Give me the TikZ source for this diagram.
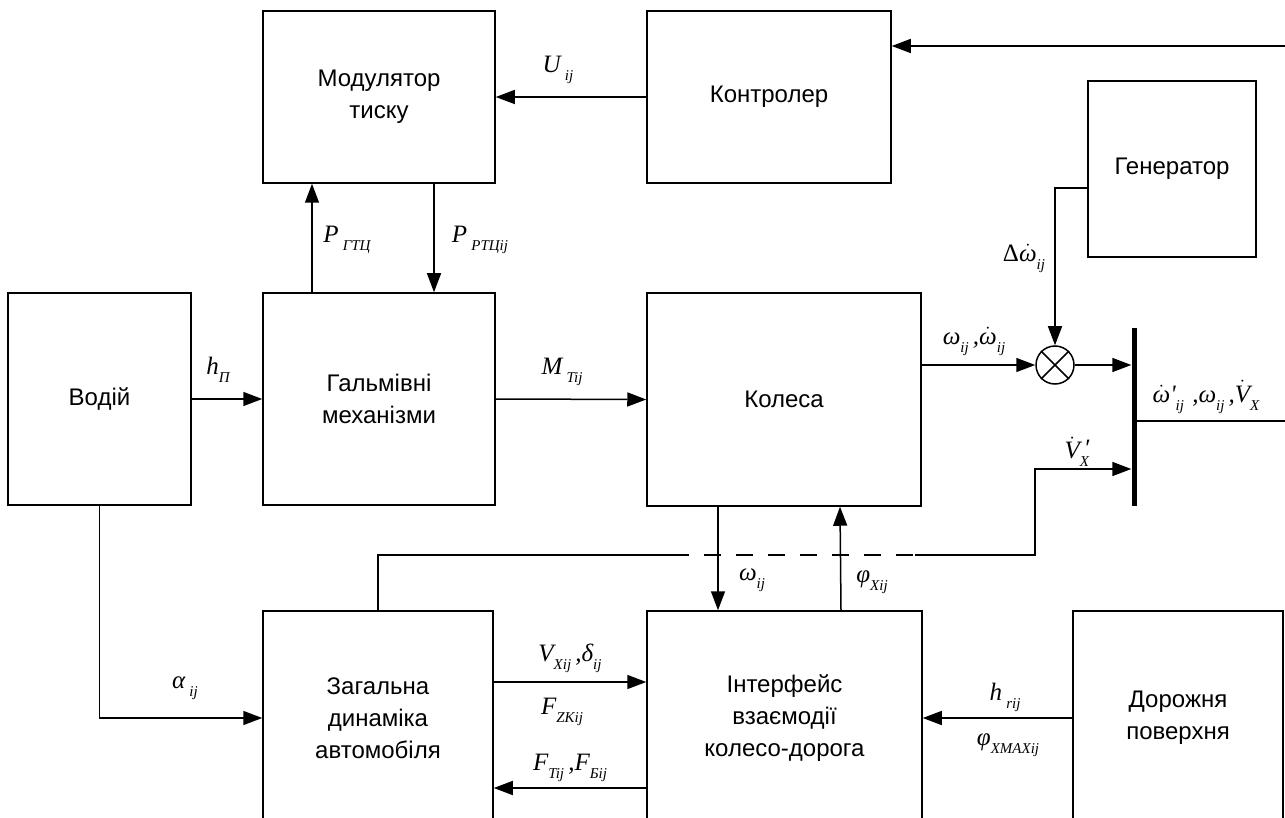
\documentclass[tikz,border=0pt]{standalone}
\usepackage{fontspec}
\setmainfont{Liberation Sans}
\newfontfamily\tms{Liberation Serif}
\usetikzlibrary{arrows.meta}
\newcommand\Sb[1]{\raisebox{-0.32em}{\fontsize{15}{15}\selectfont\tms\itshape #1}}
\newcommand\Dt[1]{\ensuremath{\dot{\hbox{#1}}}}
\tikzset{
  blk/.style={draw, line width=1.5pt, inner sep=0pt, align=center,
              font=\fontsize{24}{32}\selectfont},
  arr/.style={-{Triangle[length=19pt,width=14pt]}, line width=1.5pt},
  ln/.style={line width=1.5pt},
  lbl/.style={inner sep=0pt, font=\fontsize{25}{25}\selectfont\tms\itshape},
}
\begin{document}
\begin{tikzpicture}[x=1pt,y=-1pt]
\clip (0,0) rectangle (1285,818);
\fill[white] (0,0) rectangle (1285,818);
% blocks
\node[blk, minimum width=232pt, minimum height=172pt] (mod) at (379,97) {Модулятор\\тиску};
\node[blk, minimum width=244pt, minimum height=172pt] (ctl) at (769,97) {Контролер};
\node[blk, minimum width=168pt, minimum height=176pt] (gen) at (1172,169) {Генератор};
\node[blk, minimum width=183pt, minimum height=212pt] (drv) at (99.5,399) {Водій};
\node[blk, minimum width=232pt, minimum height=212pt] (gal) at (379,399) {Гальмівні\\механізми};
\node[blk, minimum width=274pt, minimum height=213pt] (kol) at (784,399.5) {Колеса};
\node[blk, minimum width=230pt, minimum height=214pt] (zag) at (378,718) {Загальна\\динаміка\\автомобіля};
\node[blk, minimum width=275pt, minimum height=214pt] (int) at (784.5,718) {Інтерфейс\\взаємодії\\колесо-дорога};
\node[blk, minimum width=210pt, minimum height=214pt] (dor) at (1178,718) {Дорожня\\поверхня};
% summing junction and bar
\node[draw, circle, line width=1.5pt, minimum size=38pt, inner sep=0pt] (sum) at (1055,365) {};
\draw[line width=1.5pt] (sum.north west) -- (sum.south east) (sum.north east) -- (sum.south west);
\node[fill=black, minimum width=5pt, minimum height=178pt, inner sep=0pt] (bar) at (1134,417) {};
% free ends
\coordinate (inR) at (1285,46);
\coordinate (outR) at (1285,421);
\coordinate (c1) at (378,555);
\coordinate (c2) at (672,555);
\coordinate (c3) at (915,555);
\coordinate (c4) at (1035,555);
% connectors
\draw[arr] (inR) -- (inR -| ctl.east);
\draw[arr] (ctl.west) -- (mod.east);
\draw[arr] ([xshift=-67pt]gal.north) -- ([xshift=-67pt]mod.south);
\draw[arr] ([xshift=55pt]mod.south) -- ([xshift=55pt]gal.north);
\draw[arr] (drv.east) -- (gal.west);
\draw[arr] (gal.east) -- (kol.west);
\draw[arr] ([yshift=34.5pt]kol.east) -- (sum.west);
\draw[arr] ([yshift=-19pt]gen.west) -| (sum.north);
\draw[arr] (sum.east) -- (sum.east -| bar.west);
\draw[ln] (outR -| bar.east) -- (outR);
\draw[ln] (zag.north) -- (c1) -- (c2);
\draw[ln, dash pattern=on 17pt off 15pt] (c2) -- (c3);
\draw[arr] (c3) -- (c4) |- ([yshift=-52pt]bar.west);
\draw[arr] ([xshift=-66pt]kol.south) -- ([xshift=-66.5pt]int.north);
\draw[arr] ([xshift=56.5pt]int.north) -- ([xshift=56pt]kol.south);
\draw[arr] (drv.south) |- (zag.west);
\draw[arr] ([yshift=36pt]zag.east) -- ([yshift=36pt]int.west);
\draw[arr] ([yshift=-70pt]int.west) -- ([yshift=-70pt]zag.east);
\draw[arr] (dor.west) -- (int.east);
% labels
\node[lbl] (lU) at (558,70) {U\,\Sb{ij}};
\node[lbl] (lPg) at (347,240) {P\,\Sb{ГТЦ}};
\node[lbl] (lPr) at (480,240) {P\,\Sb{РТЦij}};
\node[lbl] (lh) at (218,370) {h\Sb{П}};
\node[lbl] (lM) at (562,372) {M\,\Sb{Tij}};
\node[lbl] (lw1) at (974,341) {ω\Sb{ij}\,,\Dt{ω}\Sb{ij}};
\node[lbl] (ldw) at (1024,258) {{\upshape Δ}\Dt{ω}\Sb{ij}};
\node[lbl] (lout) at (1206,397) {\Dt{ω}'\Sb{ij}\,\,,ω\Sb{ij}\,,\Dt{V}\Sb{X}};
\node[lbl] (lvx) at (1077,452) {\Dt{V}\makebox[0pt][l]{\Sb{X}}\,\raisebox{0.1em}{′}};
\node[lbl] (lw2) at (752,580) {ω\Sb{ij}};
\node[lbl] (lphi) at (872,582) {φ\Sb{Xij}};
\node[lbl] (la) at (185,688) {α\,\Sb{ij}};
\node[lbl] (lvd) at (570,658) {V\Sb{Xij}\,,δ\Sb{ij}};
\node[lbl] (lfz) at (562,712) {F\Sb{ZKij}};
\node[lbl] (lft) at (570,768) {F\Sb{Tij}\,,F\Sb{Бij}};
\node[lbl] (lhr) at (1005,697) {h\,\Sb{rij}};
\node[lbl] (lphm) at (1008,745) {φ\Sb{XMAXij}};
\end{tikzpicture}
\end{document}
